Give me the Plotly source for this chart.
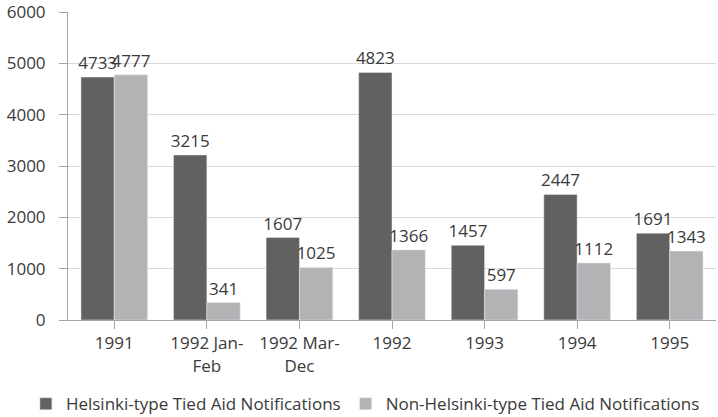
import plotly.graph_objects as go

categories = ["1991", "1992 Jan-<br>Feb", "1992 Mar-<br>Dec", "1992", "1993", "1994", "1995"]
helsinki = [4733, 3215, 1607, 4823, 1457, 2447, 1691]
non_helsinki = [4777, 341, 1025, 1366, 597, 1112, 1343]

x_idx = list(range(len(categories)))

fig = go.Figure()
fig.add_trace(go.Bar(
    x=x_idx, y=helsinki, name="Helsinki-type Tied Aid Notifications",
    marker_color="#616161", text=helsinki, textposition="outside",
    textfont=dict(size=17, color="#3a3a3a"), cliponaxis=False,
))
fig.add_trace(go.Bar(
    x=x_idx, y=non_helsinki, name="Non-Helsinki-type Tied Aid Notifications",
    marker_color="#b3b3b5", text=non_helsinki, textposition="outside",
    textfont=dict(size=17, color="#3a3a3a"), cliponaxis=False,
))

fig.update_layout(
    width=718, height=417,
    margin=dict(l=68, r=2, t=12, b=97, autoexpand=False),
    plot_bgcolor="white", paper_bgcolor="white",
    font=dict(family="Open Sans", size=17, color="#3a3a3a"),
    barmode="group", bargap=0.28, bargroupgap=0.0,
    showlegend=True,
    legend=dict(orientation="h", x=-0.065, xanchor="left", y=-0.215, yanchor="top",
                font=dict(size=17), itemwidth=30, traceorder="normal"),
    uniformtext=dict(minsize=17, mode="show"),
)
fig.update_xaxes(
    tickmode="array", tickvals=x_idx, ticktext=categories,
    range=[-0.5, len(categories) - 0.5],
    showline=True, linecolor="#a6a6a6", linewidth=1,
    ticks="outside", ticklen=8, tickcolor="#a6a6a6", tickson="boundaries",
    showgrid=False,
)
fig.update_yaxes(
    range=[0, 6001], tickvals=[0, 1000, 2000, 3000, 4000, 5000, 6000],
    showline=True, linecolor="#a6a6a6", linewidth=1,
    ticks="outside", ticklen=8, tickcolor="#a6a6a6", ticklabelstandoff=10,
    gridcolor="#d9d9d9", gridwidth=1, zeroline=False,
)

# drop the default page margin so the figure fills the window exactly
fig.write_html(
    "out.html",
    config={"displayModeBar": False},
    post_script="document.body.style.margin='0';",
)
